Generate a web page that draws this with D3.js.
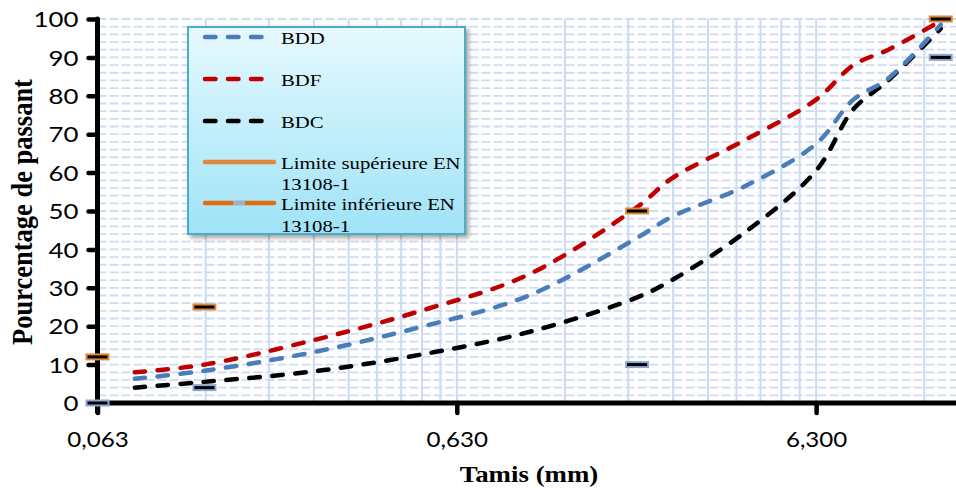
<!DOCTYPE html>
<html><head><meta charset="utf-8">
<script src="https://cdn.jsdelivr.net/npm/d3@7"></script>
<style>body{margin:0;background:#fff}svg{display:block}</style>
</head><body>
<svg id="chart" width="956" height="488"></svg>
<script>
// ---- data ----
const sieves = [0.08, 0.125, 0.25, 0.5, 1, 2, 2.5, 4, 6.3, 8, 10, 14];
const BDD = [6.3, 8.4, 13.2, 19.8, 28, 43, 48.5, 56.5, 67.5, 79, 84.5, 98.5];
const BDF = [8, 10, 16.3, 24, 33.5, 51, 58.5, 68.5, 79, 88, 92, 99.5];
const BDC = [4, 5.5, 8.2, 12.6, 18.5, 27.5, 32, 44.5, 60.5, 76.5, 84, 97.5];
const limitSieves = [0.063, 0.125, 2, 14];
const upperLimit = [12, 25, 50, 100];
const lowerLimit = [0, 4, 10, 90];
const xTickValues = [0.063, 0.63, 6.3];
const xTickLabels = ["0,063", "0,630", "6,300"];
const yTickValues = [0, 10, 20, 30, 40, 50, 60, 70, 80, 90, 100];
const seriesNames = ["BDD", "BDF", "BDC"];
const xDomainMax = 15.44;

const svg = d3.select("#chart");
const X0 = 97.5, X1 = 956, Y0 = 403, Y1 = 19;
const x = d3.scaleLog().domain([0.063, xDomainMax]).range([X0, X1]);
const y = d3.scaleLinear().domain([0, 100]).range([Y0, Y1]);

const defs = svg.append("defs");
const grad = defs.append("linearGradient").attr("id","lg").attr("x1",0).attr("y1",0).attr("x2",0).attr("y2",1);
grad.append("stop").attr("offset","0%").attr("stop-color","#E6F9FE");
grad.append("stop").attr("offset","100%").attr("stop-color","#9FE3F7");
const filt = defs.append("filter").attr("id","sh").attr("x","-10%").attr("y","-10%").attr("width","130%").attr("height","130%");
filt.append("feDropShadow").attr("dx",3).attr("dy",3).attr("stdDeviation",2).attr("flood-color","#000").attr("flood-opacity",0.35);

// ---- gridlines ----
const minorX = [];
[0.063, 0.63, 6.3].forEach(b => { for (let k = 1; k <= 9; k++) { const v = b * k; if (v > 0.063 && v < xDomainMax) minorX.push(v); } });
svg.append("g").selectAll("line").data(minorX).join("line")
  .attr("x1", d => x(d)).attr("x2", d => x(d)).attr("y1", Y1).attr("y2", Y0)
  .attr("stroke", "#C9DAF1").attr("stroke-width", 2);
const hGrid = d3.range(2, 101, 2);
svg.append("g").selectAll("line").data(hGrid).join("line")
  .attr("x1", X0).attr("x2", X1).attr("y1", d => y(d)).attr("y2", d => y(d))
  .attr("stroke", "#CDDCF2").attr("stroke-width", 1.8).attr("stroke-dasharray", "9,3");

// ---- axes ----
const yAxis = d3.axisLeft(y).tickValues(yTickValues).tickSize(9).tickFormat(d3.format("d"));
const gy = svg.append("g").attr("transform", `translate(${X0},0)`).call(yAxis);
gy.select(".domain").remove();
gy.selectAll(".tick line").attr("stroke", "#000").attr("stroke-width", 4.5).attr("stroke-linecap", "round");
gy.selectAll(".tick text").remove();
gy.selectAll(".tick").append("text")
  .attr("transform", "translate(-19,0) scale(1.2,1)")
  .attr("text-anchor", "end").attr("dy", "0.36em")
  .attr("font-family", "Lato, 'Open Sans', sans-serif").attr("font-size", 21.5).attr("fill", "#000")
  .text(d => d);

const xAxis = d3.axisBottom(x).tickValues(xTickValues).tickSize(10).tickFormat((d, i) => xTickLabels[i]);
const gx = svg.append("g").attr("transform", `translate(0,${Y0})`).call(xAxis);
gx.select(".domain").remove();
gx.selectAll(".tick line").attr("stroke", "#000").attr("stroke-width", 4.5).attr("stroke-linecap", "round");
gx.selectAll(".tick text").remove();
gx.selectAll(".tick").append("text")
  .attr("transform", "translate(0,44) scale(1.15,1)")
  .attr("text-anchor", "middle")
  .attr("font-family", "Lato, 'Open Sans', sans-serif").attr("font-size", 21).attr("fill", "#000")
  .text((d, i) => xTickLabels[i]);

svg.append("line").attr("x1", X0).attr("x2", X0).attr("y1", Y1).attr("y2", Y0 + 9)
  .attr("stroke", "#000").attr("stroke-width", 5).attr("stroke-linecap", "round");
svg.append("line").attr("x1", X0).attr("x2", X1).attr("y1", Y0).attr("y2", Y0)
  .attr("stroke", "#000").attr("stroke-width", 5);

// axis titles
svg.append("text").attr("transform", "translate(529,482) scale(1.12,1)")
  .attr("text-anchor", "middle").attr("font-family", "'Liberation Serif', 'Times New Roman', serif")
  .attr("font-weight", "bold").attr("font-size", 24).text("Tamis (mm)");
svg.append("text").attr("transform", "translate(32,212) scale(1.1,1) rotate(-90)")
  .attr("text-anchor", "middle").attr("font-family", "'Liberation Serif', 'Times New Roman', serif")
  .attr("font-weight", "bold").attr("font-size", 26.5).text("Pourcentage de passant");

// ---- series ----
const colors = { BDD: "#4A7EBB", BDF: "#C00000", BDC: "#000000" };
const seriesData = { BDD, BDF, BDC };
const line = d3.line().x(d => x(d[0])).y(d => y(d[1])).curve(d3.curveCatmullRom.alpha(0.5));
["BDC", "BDD", "BDF"].forEach(name => {
  const pts = sieves.map((s, i) => [s, seriesData[name][i]]);
  svg.append("path").datum(pts).attr("d", line).attr("fill", "none")
    .attr("stroke", colors[name]).attr("stroke-width", 4.5)
    .attr("stroke-linecap", "round").attr("stroke-dasharray", "10.5,12.5");
});

// ---- limit markers ----
function markers(vals, border) {
  svg.append("g").selectAll("rect").data(limitSieves.map((s, i) => [s, vals[i]])).join("rect")
    .attr("x", d => x(d[0]) - 11).attr("y", d => y(d[1]) - 2.5)
    .attr("width", 22).attr("height", 5)
    .attr("fill", "#000").attr("stroke", border).attr("stroke-width", 2);
}
markers(upperLimit, "#E0883C");
markers(lowerLimit, "#8EA7CF");

// ---- legend ----
const lg = svg.append("g");
lg.append("rect").attr("x", 188).attr("y", 27).attr("width", 277).attr("height", 207)
  .attr("fill", "url(#lg)").attr("stroke", "#4BACC6").attr("stroke-width", 2).attr("filter", "url(#sh)");
const legItems = [
  { name: seriesNames[0], color: colors.BDD, dash: true, ly: 37, lines: ["BDD"], ty: [44] },
  { name: seriesNames[1], color: colors.BDF, dash: true, ly: 79, lines: ["BDF"], ty: [86] },
  { name: seriesNames[2], color: colors.BDC, dash: true, ly: 121, lines: ["BDC"], ty: [128] },
  { name: "sup", color: "#E0883C", dash: false, ly: 162, lines: ["Limite supérieure EN", "13108-1"], ty: [169, 190] },
  { name: "inf", color: "#E46C0A", dash: false, ly: 203, lines: ["Limite inférieure EN", "13108-1"], ty: [210, 232], mark: true }
];
legItems.forEach(it => {
  lg.append("line").attr("x1", 205).attr("x2", it.dash ? 265 : 274).attr("y1", it.ly).attr("y2", it.ly)
    .attr("stroke", it.color).attr("stroke-width", 4.5).attr("stroke-linecap", "round")
    .attr("stroke-dasharray", it.dash ? "10.5,12.5" : null);
  if (it.mark) lg.append("rect").attr("x", 233).attr("y", it.ly - 2).attr("width", 12).attr("height", 4).attr("fill", "#95B3D7");
  it.lines.forEach((t, j) => {
    lg.append("text").attr("transform", `translate(281,${it.ty[j]}) scale(1.22,1)`)
      .attr("font-family", "'Liberation Serif', 'Times New Roman', serif").attr("font-size", 17)
      .attr("fill", "#000").text(t);
  });
});
</script>
</body></html>
